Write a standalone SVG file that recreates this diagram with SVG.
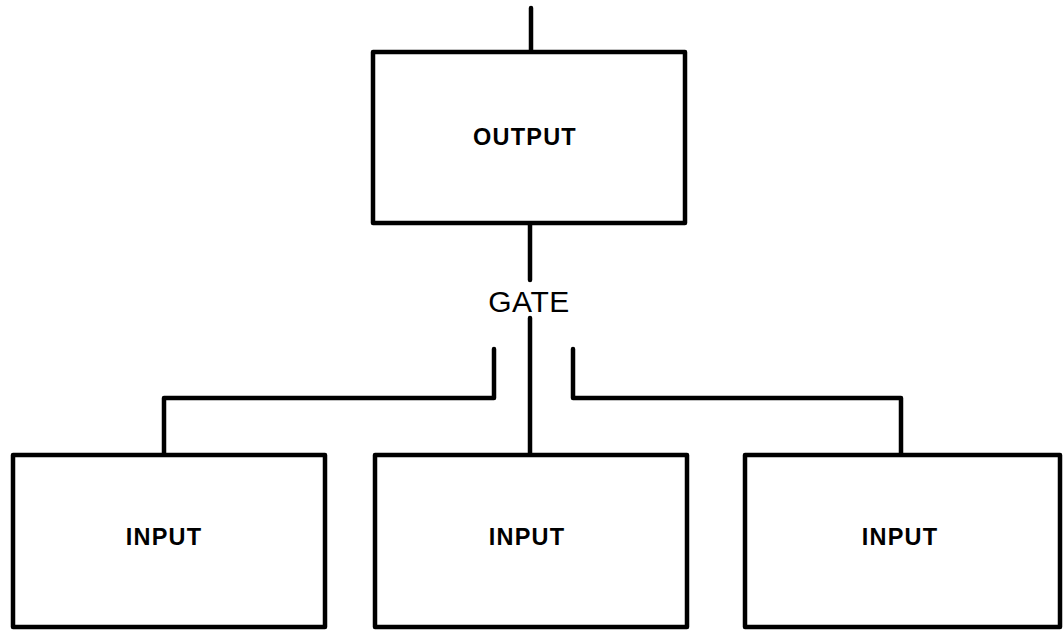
<svg xmlns="http://www.w3.org/2000/svg" width="1063" height="630" viewBox="0 0 1063 630">
<style>
.box{fill:#fff;stroke:#000;stroke-width:4.5;stroke-linejoin:round}
.ln{fill:none;stroke:#000;stroke-width:4.5;stroke-linejoin:round;stroke-linecap:round}
.lbl{font-family:"Liberation Sans",Arial,sans-serif;font-weight:bold;font-size:23.5px;letter-spacing:1.2px;text-anchor:middle;fill:#000}
.gate{font-family:"Liberation Sans",Arial,sans-serif;font-size:30px;letter-spacing:0.5px;text-anchor:middle;fill:#000}
</style>
<rect width="1063" height="630" fill="#fff"/>
<g id="connectors">
<line class="ln" x1="531" y1="8" x2="531" y2="52"/>
<line class="ln" x1="530" y1="223" x2="530" y2="280"/>
<line class="ln" x1="530" y1="318" x2="530" y2="455"/>
<polyline class="ln" points="494,349 494,398 164,398 164,455"/>
<polyline class="ln" points="573,349 573,398 901,398 901,455"/>
</g>
<g id="output">
<rect class="box" x="373" y="52" width="312" height="171"/>
<text class="lbl" x="525" y="145">OUTPUT</text>
</g>
<g id="gate">
<text class="gate" x="529" y="312">GATE</text>
</g>
<g id="input1">
<rect class="box" x="13" y="455" width="312" height="172"/>
<text class="lbl" x="164" y="545">INPUT</text>
</g>
<g id="input2">
<rect class="box" x="375" y="455" width="312" height="172"/>
<text class="lbl" x="527" y="545">INPUT</text>
</g>
<g id="input3">
<rect class="box" x="745" y="455" width="315" height="172"/>
<text class="lbl" x="900" y="545">INPUT</text>
</g>
</svg>
